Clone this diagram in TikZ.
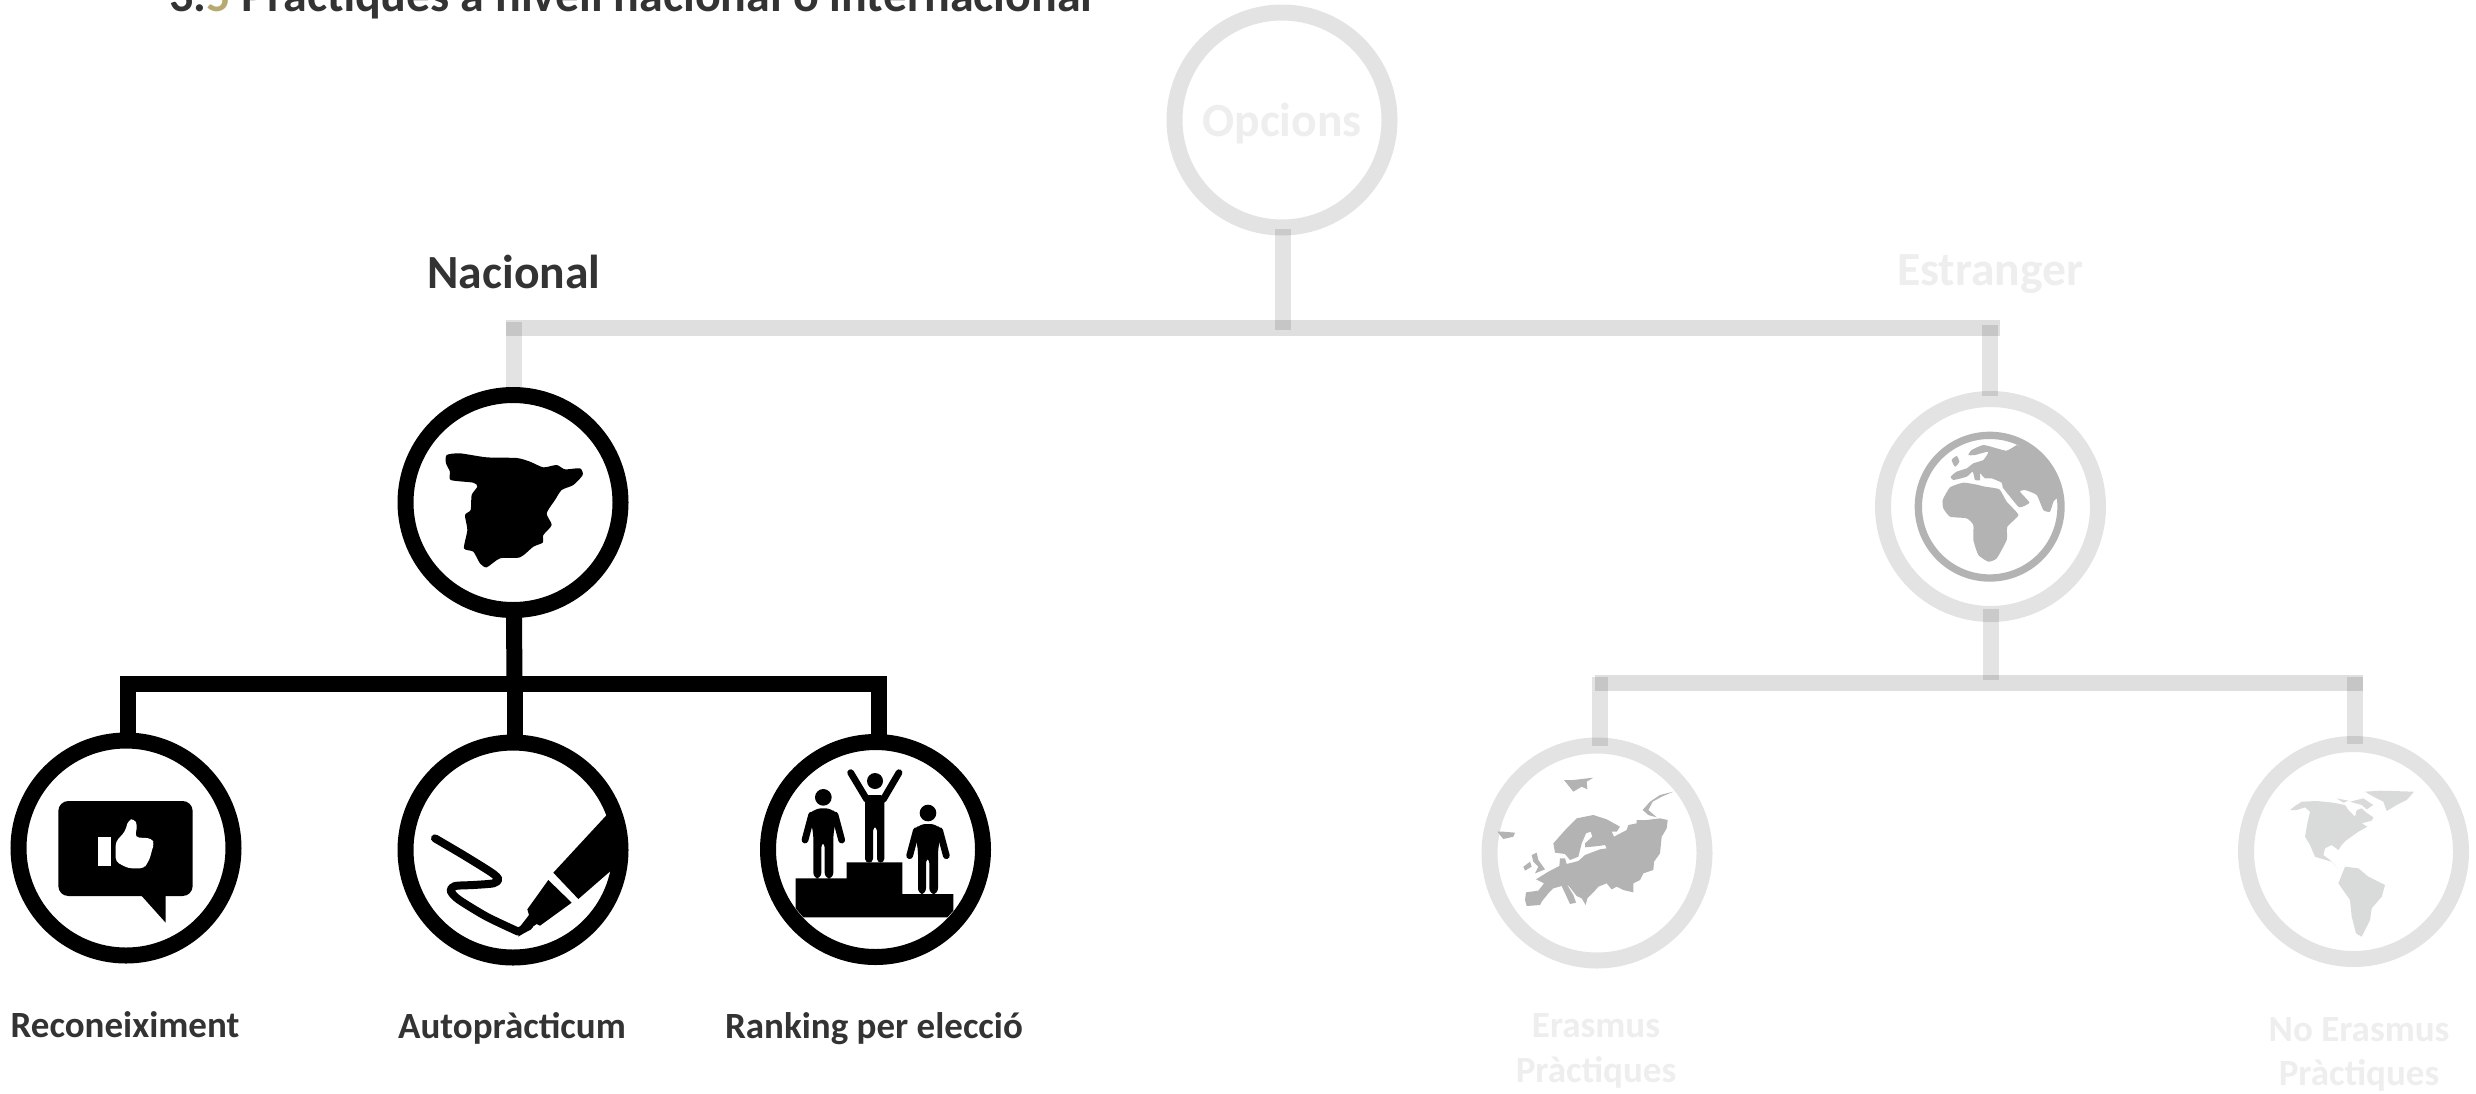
\documentclass[tikz,border=0pt]{standalone}
\usepackage{fontspec}
\setmainfont{Carlito}
\definecolor{dark}{HTML}{333333}
\definecolor{gold}{HTML}{B8A96E}
\definecolor{faint}{HTML}{EEEEEE}
\definecolor{mapgray}{HTML}{B3B3B3}
\definecolor{amgray}{HTML}{D9DBDB}
\tikzset{
  ringb/.style={circle,draw=black,line width=8pt,minimum size=107.5pt,inner sep=0pt},
  ringg/.style={circle,draw=black,draw opacity=.11,line width=8pt,minimum size=107.5pt,inner sep=0pt},
  lineb/.style={draw=black,line width=8pt},
  lineg/.style={draw=black,draw opacity=.11,line width=8pt},
  lineh/.style={draw=black,draw opacity=.125,line width=8pt},
  labelb/.style={anchor=base,text=dark,font=\bfseries\fontsize{18.5}{22.2}\selectfont,inner sep=0pt},
  labelg/.style={anchor=base,text=faint,font=\bfseries\fontsize{18.5}{22.2}\selectfont,inner sep=0pt,align=center},
  headb/.style={anchor=base,text=dark,font=\bfseries\fontsize{23.8}{28}\selectfont,inner sep=0pt},
  headg/.style={anchor=base,text=faint,font=\bfseries\fontsize{23.8}{28}\selectfont,inner sep=0pt},
  zoomed/.style={shift={(#1)},scale=1/3},
  armstroke/.style={draw=black,line width=3.4pt,line cap=round},
}
\begin{document}
\begin{tikzpicture}[x=.5pt,y=-.5pt]
\useasboundingbox (0,0) rectangle (2476,1093);
\clip (0,0) rectangle (2476,1093);
\fill[white] (0,0) rectangle (2476,1093);

% rings
\node[ringg] (opcions) at (1282,120) {};
\node[ringg] (globe) at (1990.5,506.5) {};
\node[ringg] (europe) at (1597,853) {};
\node[ringg] (america) at (2353.5,851.5) {};

% junction coordinates
\coordinate (barL) at (506,328);
\coordinate (barR) at (2000,328);
\coordinate (barM) at (1283,330);
\coordinate (barLtop) at (513.5,322);
\coordinate (barRtop) at (1990,325);
\coordinate (bar2L) at (1595,683);
\coordinate (bar2R) at (2363,683);
\coordinate (bar2Ltop) at (1600,677);
\coordinate (bar2Rtop) at (2355,677);
\coordinate (bar2M) at (1991,680);
\coordinate (barbL) at (120,684);
\coordinate (barbR) at (887,684);
\coordinate (barbLj) at (128,684);
\coordinate (barbMj) at (514.5,684);
\coordinate (barbRj) at (879,684);

% grey connectors
\draw[lineh] (barL) -- (barR);
\draw[lineg] ([shift={(1,-7)}]opcions.south) -- (barM);
\draw[lineg] (barLtop) -- (513.5,392);
\draw[lineg] (barRtop) -- ([shift={(-.5,5)}]globe.north);
\draw[lineh] (bar2L) -- (bar2R);
\draw[lineg] ([shift={(.5,-13)}]globe.south) -- (bar2M);
\draw[lineg] (bar2Ltop) -- ([shift={(3,8)}]europe.north);
\draw[lineg] (bar2Rtop) -- ([shift={(1.5,8)}]america.north);

% globe
\begin{scope}[zoomed={1860,380}]
\draw[mapgray,line width=3.67pt] (389,380) circle (214);
\fill[mapgray] plot[smooth cycle,tension=.35] coordinates {(275,240)(290,228)(298,245)(285,260)};
\fill[mapgray] plot[smooth,tension=.3] coordinates {(470,195)(440,212)(410,205)(370,195)(335,210)(325,225)(345,225)(385,215)(370,240)(340,250)(320,265)(290,275)(272,290)(280,300)(320,290)(338,275)(345,300)(360,300)(360,280)(375,295)(395,295)(425,308)(428,322)(450,350)(478,382)(508,368)(480,335)(495,330)(530,345)(550,390)(570,395)(580,365)(590,355)} -- (603,380) -- (595,320) -- (570,260) -- (530,215) -- cycle;
\fill[mapgray] plot[smooth cycle,tension=.3] coordinates {(248,360)(270,322)(310,308)(350,314)(375,320)(418,328)(440,365)(475,405)(442,440)(440,480)(410,535)(385,545)(355,525)(340,480)(340,435)(320,415)(270,410)(250,385)};
\end{scope}

% Europe
\begin{scope}[zoomed={1470,730},mapgray]
\fill (168,487)--(205,482)--(222,460)--(198,448)--(235,425)--(268,408)--(270,385)--(285,385)--(290,402)--(325,393)--(345,375)--(390,358)--(410,355)--(405,345)--(385,348)--(345,352)--(345,340)--(367,320)--(362,305)--(348,310)--(335,340)--(325,380)--(300,390)--(285,372)--(255,368)--(250,340)--(290,295)--(320,265)--(370,255)--(410,268)--(450,290)--(440,305)--(425,305)--(432,320)--(470,300)--(475,285)--(500,280)--(500,270)--(530,270)--(570,265)--(593,270)--(590,295)--(575,320)--(570,370)--(552,395)--(550,420)--(520,430)--(510,450)--(490,460)--(490,487)--(460,480)--(440,470)--(425,478)--(410,460)--(385,470)--(372,485)--(352,505)--(347,525)--(335,505)--(320,498)--(298,470)--(290,463)--(310,495)--(318,518)--(300,522)--(275,468)--(250,475)--(235,490)--(215,515)--(210,525)--(170,528)--(165,510)--cycle;
\fill (282,150)--(310,150)--(370,143)--(350,155)--(352,178)--(335,170)--(310,185)--(298,170)--cycle;
\fill (610,185)--(570,195)--(540,215)--(518,240)--(535,255)--(560,262)--(535,240)--(548,215)--(575,200)--cycle;
\fill (82,305)--(100,305)--(135,308)--(130,320)--(100,327)--(90,315)--cycle;
\fill (185,375)--(200,368)--(205,390)--(225,418)--(195,430)--(205,410)--(190,395)--cycle;
\fill (160,410)--(180,395)--(185,410)--(165,422)--cycle;
\end{scope}

% Americas
\begin{scope}[zoomed={2230,730},amgray]
\fill (180,240)--(195,228)--(215,215)--(260,213)--(310,218)--(345,225)--(355,240)--(375,260)--(380,240)--(395,235)--(405,245)--(430,262)--(425,272)--(395,280)--(412,290)--(385,305)--(350,330)--(335,345)--(325,360)--(305,345)--(285,355)--(280,375)--(300,390)--(322,415)--(305,395)--(270,385)--(255,380)--(240,345)--(225,320)--(232,280)--(240,245)--(225,232)--(200,240)--cycle;
\fill (320,205)--(355,212)--(340,218)--cycle;
\fill (360,215)--(400,205)--(430,225)--(410,238)--(395,225)--cycle;
\fill (405,185)--(450,182)--(552,185)--(530,210)--(500,225)--(470,243)--(460,215)--(430,200)--cycle;
\fill (325,460)--(345,410)--(385,415)--(415,440)--(465,465)--(455,500)--(425,535)--(420,570)--(395,620)--(378,610)--(365,560)--(360,510)--cycle;
\end{scope}

% black bar and rings
\draw[lineb] (barbL) -- (barbR);
\node[ringb] (spain) at (513,502.5) {};
\node[ringb] (recon) at (126,848) {};
\node[ringb] (auto) at (513,850) {};
\node[ringb] (rank) at (875.5,849.5) {};
\draw[lineb] ([shift={(1,-2)}]spain.south) -- (barbMj);
\draw[lineb] (barbLj) -- ([shift={(2,2)}]recon.north);
\draw[lineb] (barbMj) -- ([shift={(1.5,2)}]auto.north);
\draw[lineb] (barbRj) -- ([shift={(3.5,2)}]rank.north);

% Spain
\begin{scope}[zoomed={360,370}]
\fill[black] plot[smooth cycle,tension=.4] coordinates {(260,255)(300,250)(380,262)(470,264)(510,275)(550,292)(590,285)(615,298)(660,295)(668,315)(640,345)(605,360)(585,390)(560,430)(575,465)(550,495)(548,518)(520,530)(480,562)(420,565)(380,592)(360,580)(340,545)(312,535)(322,480)(315,435)(332,420)(335,375)(352,350)(340,338)(272,330)(270,305)(258,280)};
\end{scope}

% thumbs up
\begin{scope}[zoomed={0,720}]
\fill[black,rounded corners=5pt] (175,243) rectangle (578,528);
\fill[black] (418,520) -- (497,608) -- (497,520) -- cycle;
\fill[white] (293,350) rectangle (333,438);
\fill[white,rounded corners=2pt] (347,365) -- (375,335) -- (385,300) -- (403,296) -- (412,315) -- (405,352) -- (455,355) -- (463,372) -- (455,390) -- (452,410) -- (442,430) -- (432,445) -- (385,445) -- (347,425) -- cycle;
\end{scope}

% pen
\begin{scope}[zoomed={380,720}]
\draw[black,line width=4pt,line cap=round,line join=round] plot[smooth,tension=.45] coordinates {(165,355)(250,405)(335,458)(355,478)(340,490)(280,495)(225,498)(212,512)(235,538)(320,590)(415,635)} -- (447,618);
\fill[black] (680,285) -- (520,458) -- (595,537) -- (695,450) -- (715,380) -- (705,320) -- cycle;
\fill[black] (505,480) -- (442,568) -- (447,585) -- (420,620) -- (415,650) -- (470,612) -- (480,617) -- (575,548) -- cycle;
\end{scope}

% podium
\begin{scope}[zoomed={750,720}]
\fill[black] (137,475) -- (214,475) -- (224,475) -- (290,475) -- (290,427) -- (457,427) -- (457,522) -- (610,522) -- (610,572) -- (592,592) -- (160,592) -- (137,565) -- cycle;
\foreach \dx/\dy in {0/0,314/47}{
  \begin{scope}[shift={(\dx,\dy)}]
  \fill[black] (220,232) circle (25);
  \fill[black,rounded corners=3pt] (178,285) -- (195,265) -- (245,265) -- (262,285) -- (250,340) -- (250,476) -- (224,476) -- (224,365) -- (214,365) -- (214,476) -- (190,476) -- (190,340) -- cycle;
  \draw[armstroke] (185,285) -- (165,360);
  \draw[armstroke] (255,285) -- (275,360);
  \end{scope}
}
\fill[black] (375,183) circle (24);
\fill[black,rounded corners=2pt] (345,225) -- (403,225) -- (403,428) -- (381,428) -- (381,320) -- (369,320) -- (369,428) -- (345,428) -- cycle;
\draw[armstroke] (302,158) -- (350,238);
\draw[armstroke] (447,158) -- (400,238);
\end{scope}

% texts
\node[anchor=base west,text=dark,font=\bfseries\fontsize{24}{28}\selectfont,inner sep=0pt] (title) at (169,11) {3.\textcolor{gold}{5} Pràctiques a nivell nacional o internacional};
\node[headb] (tnac) at (514,288) {Nacional};
\node[headg] (test) at (1990,285) {Estranger};
\node[headg] (topc) at (1282,136) {Opcions};
\node[labelb] (trec) at (125,1037) {Reconeiximent};
\node[labelb] (taut) at (512,1038) {Autopràcticum};
\node[labelb] (tran) at (874,1038) {Ranking per elecció};
\node[labelg] (ter1) at (1596,1037) {Erasmus};
\node[labelg] (ter2) at (1596,1082) {Pràctiques};
\node[labelg] (tno1) at (2359,1041) {No Erasmus};
\node[labelg] (tno2) at (2359,1085) {Pràctiques};
\end{tikzpicture}
\end{document}
